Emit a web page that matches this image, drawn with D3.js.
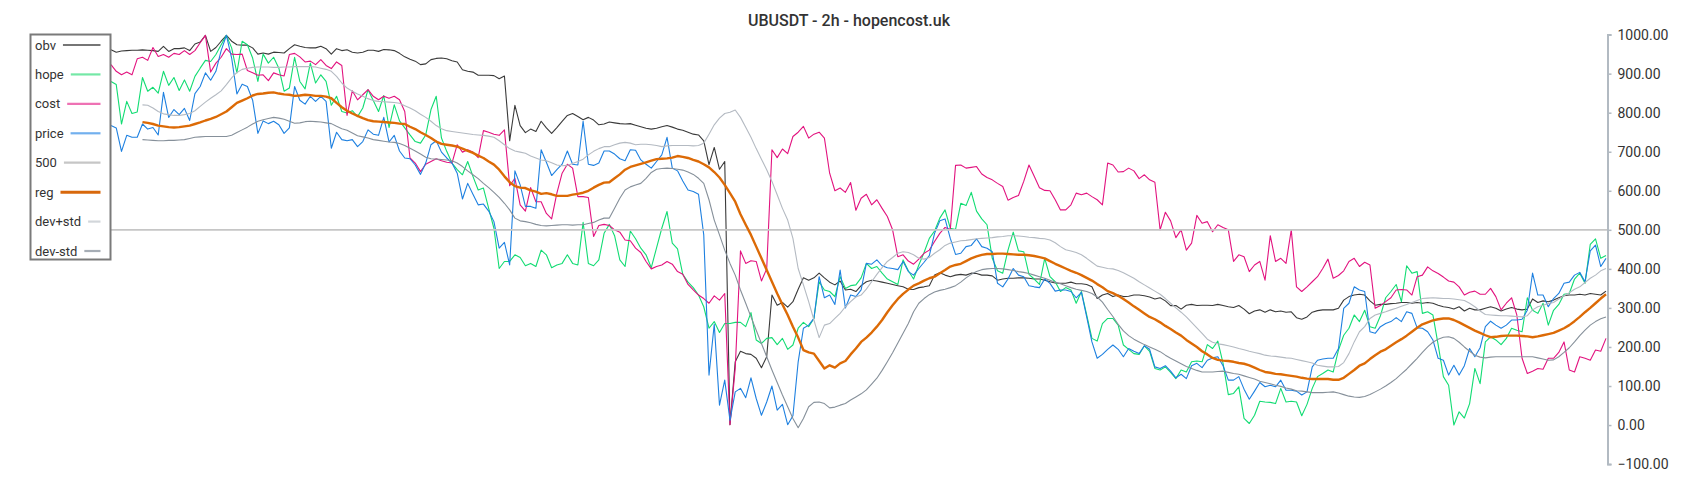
<!DOCTYPE html>
<html>
<head>
<meta charset="utf-8">
<title>UBUSDT - 2h - hopencost.uk</title>
<script src="https://cdn.jsdelivr.net/npm/d3@7"></script>
<style>
  body { margin: 0; background: #fff; }
  #chart_div { width: 1700px; height: 500px; }
  text { font-family: Roboto, "Noto Sans", sans-serif; }
</style>
</head>
<body>
<div id="chart_div"></div>
<script>
// UBUSDT 2h bars, one value per bar

var obv = [
961,955,958,959,960,960,961,960,959,957,970,957,964,964,966,959,976,981,998,957,967,983,998,983,974,973,973,966,950,953,950,955,954,953,964,974,970,967,966,966,970,964,950,964,959,961,955,953,
955,960,960,957,962,961,959,952,943,937,932,923,925,936,939,940,938,933,930,910,906,904,896,896,896,895,887,894,728,819,767,749,758,752,778,761,747,762,778,793,798,790,782,788,781,769,771,
776,774,772,771,772,768,764,760,758,760,764,767,763,758,755,750,745,743,728,667,711,655,675,1,162,189,183,181,171,147,175,333,307,314,302,316,348,377,371,377,389,377,366,359,369,346,348,342,
357,367,371,369,366,363,360,357,354,348,347,352,354,357,384,390,384,380,384,386,384,389,388,384,384,382,371,374,376,376,377,377,376,374,374,371,367,364,363,363,366,362,362,360,354,324,333,337,
329,333,329,330,333,333,331,328,323,326,318,306,306,297,307,309,306,307,307,306,309,306,303,301,306,297,285,292,295,289,295,290,292,289,290,275,271,277,289,293,295,295,295,299,320,329,333,335,
333,318,307,309,309,311,312,314,314,312,314,312,314,312,307,303,301,297,303,292,299,295,295,299,303,299,292,297,301,297,295,297,323,314,318,316,320,326,331,333,333,335,333,337,335,333,343
];

var hope = [
880,872,771,829,798,802,890,855,865,850,906,870,890,857,884,855,893,914,934,931,949,974,998,966,902,983,974,940,880,950,927,942,914,855,863,942,880,861,927,876,897,880,819,842,803,799,805,790,
812,859,831,803,844,762,820,779,761,743,726,722,743,808,842,735,701,671,654,641,675,637,602,607,555,504,401,419,419,436,429,408,414,406,448,436,403,410,414,436,414,410,519,414,408,423,491,
514,485,423,406,497,477,453,436,403,454,504,547,466,451,386,366,352,333,303,248,265,237,260,260,263,263,252,288,218,209,222,224,206,222,194,205,248,263,252,273,367,346,342,329,380,350,357,359,
377,414,401,406,389,374,367,360,423,395,374,410,442,478,497,530,551,504,501,568,562,596,548,528,513,427,395,389,448,494,446,444,386,374,360,427,380,367,342,352,346,312,342,282,222,215,260,273,
273,256,205,194,183,181,203,189,145,141,149,135,119,141,136,162,164,162,206,196,215,158,78,81,98,17,4,25,61,59,58,55,94,59,61,59,24,53,94,124,132,141,136,192,230,248,282,265,
294,252,248,280,326,342,360,316,408,389,393,286,290,282,206,124,102,0,34,18,55,145,106,213,226,218,206,222,248,243,239,326,294,286,312,256,294,309,335,337,374,389,363,463,477,427,434
];

var cost = [
923,906,897,904,897,938,942,934,967,944,949,942,952,949,959,949,959,979,998,904,927,942,964,950,949,950,908,902,896,897,882,902,897,894,949,952,943,930,932,923,936,921,913,930,921,793,856,833,
846,859,842,833,842,837,842,833,803,684,671,649,668,675,682,677,673,671,718,699,705,699,685,754,750,745,742,756,613,632,564,548,608,572,572,542,528,594,645,668,658,585,585,583,483,511,514,
511,500,494,474,472,453,442,419,400,406,410,419,412,393,386,360,346,333,324,312,331,320,337,1,145,446,414,421,419,369,400,705,685,707,695,739,750,765,735,745,750,735,645,600,607,596,621,550,
581,591,564,577,555,534,500,431,436,420,412,425,440,448,470,491,506,501,665,666,658,660,662,643,634,628,619,611,576,583,588,624,666,637,608,601,600,577,551,551,564,594,590,594,585,577,564,671,
666,648,649,658,651,631,641,628,622,500,545,523,480,500,448,466,537,517,521,495,513,506,500,419,436,431,393,410,419,371,485,419,427,414,500,354,342,354,367,380,401,425,376,383,395,419,427,406,
417,410,299,306,316,326,346,347,346,333,380,384,405,395,388,379,369,366,354,333,340,343,335,335,350,329,295,312,326,282,171,132,138,145,143,171,171,186,213,141,136,175,171,166,192,189,222
];

var price = [
767,761,701,742,737,737,771,758,762,743,852,788,808,795,811,780,849,867,902,883,906,959,998,940,848,873,867,832,747,779,772,778,769,747,761,867,832,822,842,829,842,829,709,750,731,728,731,713,
726,756,745,742,788,725,742,702,684,682,666,642,671,718,728,699,684,671,645,579,619,591,564,566,548,521,453,468,410,651,615,560,560,555,705,673,639,654,668,702,668,666,778,668,665,671,702,
702,694,682,677,705,704,679,668,658,675,692,737,658,651,625,602,598,591,487,128,258,51,115,12,85,94,70,121,68,25,59,100,38,53,1,24,162,248,256,273,380,326,333,309,397,300,333,329,
346,414,412,423,408,403,401,398,419,393,384,401,417,434,491,523,528,478,437,440,457,460,477,457,453,444,363,354,374,401,384,380,357,354,352,374,363,343,346,346,342,326,340,277,213,171,181,194,
205,194,175,196,189,183,203,194,149,145,152,138,121,130,119,152,158,147,166,172,175,152,115,115,124,92,66,87,109,98,102,98,115,89,89,87,77,85,149,166,169,171,171,196,299,312,354,346,
342,239,235,252,260,265,275,265,290,286,249,248,239,218,171,166,128,153,128,152,196,175,198,252,266,256,248,256,269,269,271,294,389,333,333,303,324,337,363,366,384,391,367,446,461,406,427
];

var level = 500;

var reg = [null,null,null,null,null,null,
776,774,771,767,765,763,762,763,765,767,771,775,780,784,789,796,803,814,825,831,837,844,848,849,851,852,849,847,846,843,844,846,845,843,843,841,837,825,814,805,798,792,
786,781,778,777,776,775,774,772,771,764,758,750,743,735,726,720,718,716,713,708,702,697,690,684,675,667,654,637,622,612,608,607,601,598,592,594,591,587,587,587,590,592,595,600,608,615,621,
622,632,642,654,661,665,669,673,677,681,682,683,685,689,687,684,679,675,668,660,648,634,615,594,572,540,513,487,457,427,397,367,337,309,282,252,224,192,186,183,164,145,153,147,158,164,181,196,
213,224,237,252,269,289,307,323,336,347,357,363,370,376,380,389,397,406,410,413,420,427,432,436,438,438,439,439,438,437,436,436,435,433,430,427,420,413,407,401,395,390,384,377,370,361,353,343,
338,331,323,314,304,295,286,277,271,263,254,246,237,229,218,209,200,189,181,172,167,165,164,162,159,157,153,147,141,136,134,131,130,128,126,124,121,119,118,118,118,118,116,116,121,131,141,152,
158,169,179,188,194,203,212,220,229,239,249,258,263,268,271,273,273,269,263,256,249,242,236,230,225,226,228,229,229,229,228,227,225,227,230,233,236,242,248,256,266,277,289,300,312,324,335
];

var dev_plus = [null,null,null,null,null,null,
820,819,812,803,797,795,793,793,795,798,805,816,827,837,846,856,872,889,903,911,914,916,917,917,917,916,916,917,917,918,918,918,918,917,914,911,906,893,876,863,855,848,
842,836,831,829,828,827,826,824,818,812,805,796,788,778,767,759,754,752,750,748,746,744,743,742,740,737,728,718,708,702,699,696,689,684,679,677,672,666,664,665,670,675,681,692,701,708,713,
713,718,722,724,722,718,719,719,718,716,713,715,716,716,716,716,715,716,722,745,769,786,798,801,807,788,763,737,708,681,654,624,590,555,525,478,401,359,316,269,224,256,260,273,286,303,316,328,
333,348,367,386,403,419,429,440,444,442,436,427,425,429,440,449,460,466,469,472,473,475,477,478,479,480,482,483,485,485,484,483,481,480,478,477,474,467,457,449,446,442,436,427,417,407,404,401,
400,396,390,383,376,367,359,351,343,335,324,312,300,289,277,263,249,235,220,212,208,206,203,200,196,193,189,186,183,179,177,176,174,172,171,168,165,162,159,153,151,149,149,150,160,183,213,239,
252,273,282,286,290,295,299,304,309,314,319,324,325,326,325,324,324,323,321,319,312,303,292,283,282,281,280,280,279,278,277,280,295,303,307,311,314,323,331,339,348,354,365,376,384,395,401
];

var dev_minus = [null,null,null,null,null,null,
731,730,729,728,728,729,729,730,731,734,737,738,739,739,739,739,739,742,749,756,763,771,778,782,785,788,786,783,778,773,774,777,778,777,776,774,772,765,759,755,748,741,
738,735,731,729,727,725,724,721,716,709,702,694,686,682,681,680,679,677,671,662,651,641,631,619,608,596,583,568,551,530,523,521,518,514,511,510,511,512,513,513,512,513,513,516,519,525,530,
530,555,581,602,610,615,619,632,647,655,657,658,657,655,653,648,642,632,619,577,525,487,448,414,384,346,312,277,243,209,175,141,109,77,47,17,-7,17,47,58,59,55,44,46,51,55,64,72,
80,90,105,120,140,162,185,210,235,260,290,312,324,334,341,345,348,352,357,366,377,386,393,398,400,401,401,400,398,396,393,391,388,384,380,376,371,366,362,357,352,348,345,342,337,328,315,296,
278,258,241,229,220,213,206,200,194,188,179,171,164,157,150,145,140,136,136,136,137,138,135,132,130,126,122,118,112,109,106,102,99,95,92,88,87,85,83,83,83,84,85,82,78,74,72,71,
73,78,85,92,100,109,119,131,143,157,171,186,200,212,220,225,226,222,212,200,189,179,174,172,174,175,175,175,175,175,175,175,175,172,169,166,167,175,186,198,213,229,243,256,265,272,277
];

var y_ticks = [-100, 0, 100, 200, 300, 400, 500, 600, 700, 800, 900, 1000];
var title = 'UBUSDT - 2h - hopencost.uk';

var w = 1700;
var h = 500;
var first_x = 111;
var last_x = 1606;
var axis_x = 1607.5;

var the_svg = d3.select('#chart_div')
  .append('svg')
    .attr('width', w)
    .attr('height', h);

var x = d3.scaleLinear().domain([0, price.length - 1]).range([first_x, last_x]);
var y = d3.scaleLinear().domain([-100, 1000]).range([464.1, 34.6]);

var series = [
  {name: 'obv',     values: obv,       col: '#3a3a3a', sw: 1.1, leg: '#767676'},
  {name: 'hope',    values: hope,      col: '#12dc73', sw: 1.1, leg: '#74e8a6'},
  {name: 'cost',    values: cost,      col: '#e2137f', sw: 1.1, leg: '#ee72b4'},
  {name: 'price',   values: price,     col: '#1e80e0', sw: 1.1, leg: '#72b0ee'},
  {name: '500',     values: null,      col: '#c6c6c6', sw: 1.6, leg: '#c6c6c6'},
  {name: 'reg',     values: reg,       col: '#dc6a06', sw: 2.4, leg: '#d8680c'},
  {name: 'dev+std', values: dev_plus,  col: '#b4bac2', sw: 1.1, leg: '#d2d6da'},
  {name: 'dev-std', values: dev_minus, col: '#86909a', sw: 1.1, leg: '#a6adb5'}
];

var line = d3.line()
  .defined(function(d) { return d != null; })
  .x(function(d, i) { return x(i); })
  .y(function(d) { return y(d); });

series.forEach(function(s) {
  if (s.values == null) {
    // flat 500 level
    the_svg.append('line')
      .attr('x1', first_x)
      .attr('x2', axis_x)
      .attr('y1', y(level))
      .attr('y2', y(level))
      .attr('stroke', s.col)
      .attr('stroke-width', s.sw);
    return;
  }
  the_svg.append('path')
    .datum(s.values)
    .attr('fill', 'none')
    .attr('stroke', s.col)
    .attr('stroke-width', s.sw)
    .attr('stroke-linejoin', 'round')
    .attr('d', line);
});

// right value axis
var y_axis = d3.axisRight(y)
  .tickValues(y_ticks)
  .tickFormat(d3.format('.2f'))
  .tickSize(4)
  .tickSizeOuter(4)
  .tickPadding(6);

var ax = the_svg.append('g')
  .attr('transform', 'translate(' + axis_x + ',0)')
  .call(y_axis);
ax.select('.domain').attr('stroke', '#b2bac2').attr('stroke-width', 2);
ax.selectAll('.tick line').attr('stroke', '#b2bac2').attr('stroke-width', 1.5);
ax.selectAll('.tick text')
  .attr('fill', '#333')
  .style('font-size', '14px')
  .style('font-family', 'Roboto, "Noto Sans", sans-serif');

the_svg.append('text')
  .attr('x', 849)
  .attr('y', 26)
  .attr('text-anchor', 'middle')
  .attr('fill', '#333')
  .style('font-size', '16px')
  .style('font-weight', 500)
  .text(title);

// legend box on top of the left edge
var legend = the_svg.append('g');
legend.append('rect')
  .attr('x', 30.5)
  .attr('y', 34.5)
  .attr('width', 80)
  .attr('height', 225)
  .attr('fill', '#fff')
  .attr('stroke', '#7a7a7a')
  .attr('stroke-width', 2);

series.forEach(function(s, i) {
  var ly = 45 + i * 29.43;
  var t = legend.append('text')
    .attr('x', 35)
    .attr('y', ly)
    .attr('dy', '0.35em')
    .attr('fill', '#333')
    .style('font-size', '13px')
    .text(s.name);
  var tw = t.node().getComputedTextLength();
  legend.append('line')
    .attr('x1', 35 + tw + 7)
    .attr('x2', 100.5)
    .attr('y1', ly)
    .attr('y2', ly)
    .attr('stroke', s.leg)
    .attr('stroke-width', s.name == 'reg' ? 3 : 2.2);
});
</script>
</body>
</html>
